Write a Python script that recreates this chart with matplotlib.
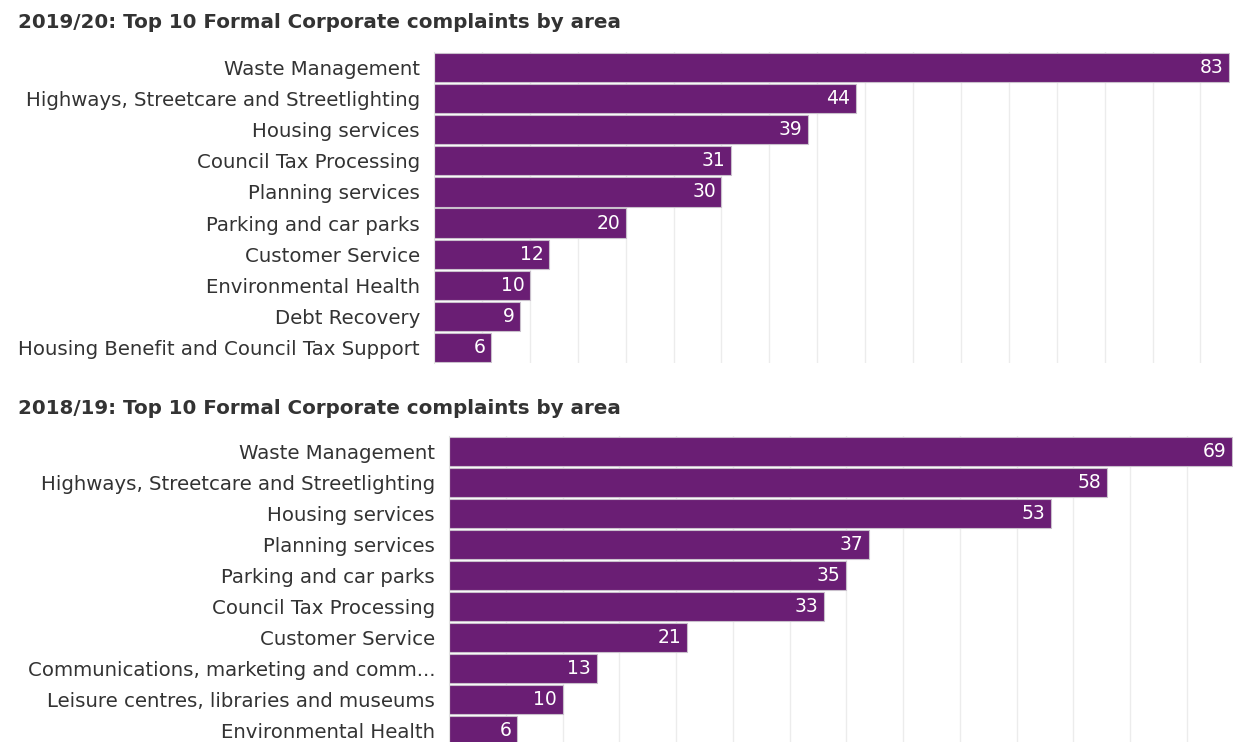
import matplotlib
matplotlib.use("Agg")
import matplotlib.pyplot as plt
import numpy as np

# 2019/20 figures
areas_1920 = [
    "Waste Management",
    "Highways, Streetcare and Streetlighting",
    "Housing services",
    "Council Tax Processing",
    "Planning services",
    "Parking and car parks",
    "Customer Service",
    "Environmental Health",
    "Debt Recovery",
    "Housing Benefit and Council Tax Support",
]
counts_1920 = [83, 44, 39, 31, 30, 20, 12, 10, 9, 6]

# 2018/19 figures
areas_1819 = [
    "Waste Management",
    "Highways, Streetcare and Streetlighting",
    "Housing services",
    "Planning services",
    "Parking and car parks",
    "Council Tax Processing",
    "Customer Service",
    "Communications, marketing and comm...",
    "Leisure centres, libraries and museums",
    "Environmental Health",
]
counts_1819 = [69, 58, 53, 37, 35, 33, 21, 13, 10, 6]

titles = [
    "2019/20: Top 10 Formal Corporate complaints by area",
    "2018/19: Top 10 Formal Corporate complaints by area",
]

BAR_COLOR = "#6a1e74"
TEXT_COLOR = "#333333"
GRID_COLOR = "#ececec"

plt.rcParams["font.family"] = ["DejaVu Sans"]

W, H = 1240, 742
fig = plt.figure(figsize=(W / 100, H / 100), dpi=100)


def px_axes(left, top, right, bottom):
    return fig.add_axes([left / W, 1 - bottom / H, (right - left) / W, (bottom - top) / H])


def draw_panel(ax, labels, values):
    y = np.arange(len(values))
    ax.barh(y, values, height=0.94, color=BAR_COLOR, edgecolor="#c9c0cc", linewidth=0.8, zorder=2)
    ax.set_ylim(len(values) - 0.5, -0.5)
    ax.set_xlim(0, max(values) * 1.001)
    ax.set_yticks(y)
    ax.set_yticklabels(labels, fontsize=14.2, color=TEXT_COLOR)
    ax.set_xticks(np.arange(5, max(values), 5))
    ax.tick_params(axis="x", length=0, labelbottom=False)
    ax.tick_params(axis="y", length=0, pad=10)
    ax.grid(axis="x", color=GRID_COLOR, linewidth=1, zorder=0)
    for side in ("top", "right", "bottom"):
        ax.spines[side].set_visible(False)
    ax.spines["left"].set_color("#e2e2e2")
    for yi, v in zip(y, values):
        ax.annotate(str(v), (v, yi), xytext=(-4, 0), textcoords="offset points",
                    ha="right", va="center", color="white", fontsize=13.5, zorder=3)


ax1 = px_axes(434, 52, 1230, 363)
draw_panel(ax1, areas_1920, counts_1920)
fig.text(18 / W, 1 - 22 / H, titles[0], fontsize=14.3, fontweight="bold",
         color=TEXT_COLOR, ha="left", va="center")

ax2 = px_axes(449, 436, 1233, 746)
draw_panel(ax2, areas_1819, counts_1819)
fig.text(18 / W, 1 - 409 / H, titles[1], fontsize=14.3, fontweight="bold",
         color=TEXT_COLOR, ha="left", va="center")

fig.savefig("out.png", dpi=100, facecolor="white")
